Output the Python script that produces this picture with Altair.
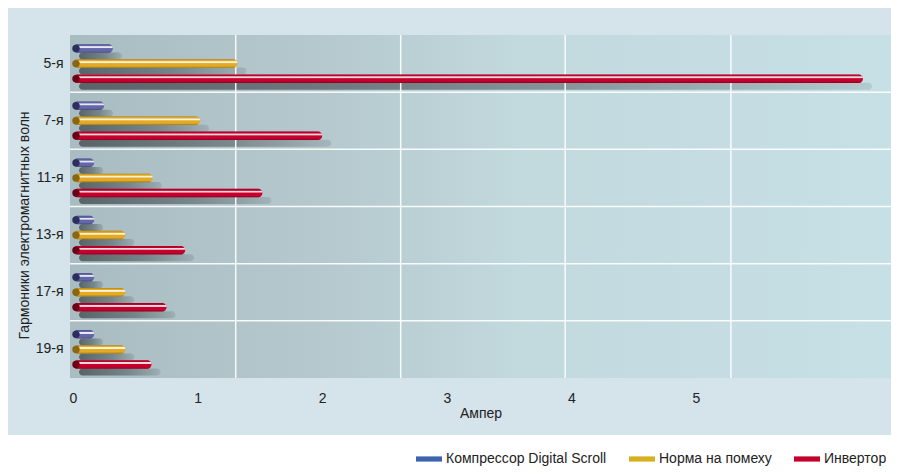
import altair as alt
import pandas as pd

FONT = "Liberation Sans"

rows = ["5-я", "7-я", "11-я", "13-я", "17-я", "19-я"]
series = ["Компрессор Digital Scroll", "Норма на помеху", "Инвертор"]
compressor = [0.32, 0.25, 0.17, 0.17, 0.17, 0.17]
norm = [1.32, 1.02, 0.64, 0.42, 0.42, 0.42]
inverter = [6.34, 2.00, 1.52, 0.90, 0.75, 0.63]
x_ticks = [0, 1, 2, 3, 4, 5]
grid_values = [1.306, 2.63, 3.95, 5.28]

legend_colors = ["#3e64ae", "#d7b01e", "#c4002c"]
bar_colors = ["#6367aa", "#e4ab22", "#c6002c"]
cap_colors = ["#2c2f5e", "#8a6512", "#6c0016"]
slots = ["s0", "s0sh", "s1", "s1sh", "s2", "s2sh"]

records = []
for r_i, r in enumerate(rows):
    for s_i, (s, vals) in enumerate(zip(series, [compressor, norm, inverter])):
        records.append({"row": r, "series": s, "value": vals[r_i],
                        "slot": f"s{s_i}", "sslot": f"s{s_i}sh"})
df = pd.DataFrame(records)

W, H = 821, 343
PAD_L, PAD_T = 62, 27

xs = alt.Scale(domain=[-0.0241, 6.565], nice=False, zero=False)
ys = alt.Scale(domain=rows, paddingInner=0, paddingOuter=0)
yo = alt.Scale(domain=slots, paddingInner=0, paddingOuter=0.8, align=0.8125)

xaxis = alt.Axis(values=x_ticks, format="d", grid=False, domain=False, ticks=False, zindex=1,
                 labelPadding=13, labelFontSize=14, labelColor="#222", labelFont=FONT,
                 title="Ампер", titleFontSize=14, titleFontWeight="normal",
                 titleColor="#222", titleFont=FONT, titlePadding=1)
yaxis = alt.Axis(title="Гармоники электромагнитных волн", domain=False, ticks=False, zindex=1,
                 labelPadding=7, labelFontSize=14, labelColor="#222", labelFont=FONT,
                 titleFontSize=14, titleFontWeight="normal", titleColor="#222",
                 titleFont=FONT, titleX=-39, titleY=190)

X = alt.X("value:Q", scale=xs, axis=xaxis)
Y = alt.Y("row:N", scale=ys, sort=rows, axis=yaxis)

one = alt.Data(values=[{"a": 1}])

panel = alt.Chart(one).mark_rect(color="#d5e3ea").encode(
    x=alt.value(-PAD_L), x2=alt.value(W), y=alt.value(-PAD_T), y2=alt.value(400))

plot_grad = alt.LinearGradient(
    gradient="linear", x1=0, x2=1, y1=0, y2=0,
    stops=[alt.GradientStop(offset=0, color="#a8bcc1"),
           alt.GradientStop(offset=0.3, color="#b4c8cd"),
           alt.GradientStop(offset=0.55, color="#c2d9de"),
           alt.GradientStop(offset=1, color="#c7e0e5")])
plot_bg = alt.Chart(one).mark_rect(fill=plot_grad).encode(
    x=alt.value(0), x2=alt.value(W), y=alt.value(0), y2=alt.value(H))

base = alt.Chart(df)

sh_grad = alt.LinearGradient(
    gradient="linear", x1=0, x2=1, y1=0, y2=0,
    stops=[alt.GradientStop(offset=0, color="rgba(68,78,82,0.8)"),
           alt.GradientStop(offset=0.6, color="rgba(68,78,82,0.5)"),
           alt.GradientStop(offset=1, color="rgba(68,78,82,0.15)")])
shadows = base.mark_bar(size=7, cornerRadius=3.5, xOffset=9, x2Offset=6, fill=sh_grad).encode(
    x=X, x2=alt.datum(0), y=Y, yOffset=alt.YOffset("sslot:N", scale=yo))

vgrid = alt.Chart(pd.DataFrame({"g": grid_values})).mark_rule(
    color="white", strokeWidth=1.5, opacity=0.9).encode(x=alt.X("g:Q", scale=xs, axis=xaxis))

hsep = alt.Chart(pd.DataFrame({"row": rows[1:]})).mark_rule(
    color="white", strokeWidth=1.5, opacity=0.9).encode(
    y=alt.Y("row:N", scale=ys, sort=rows, axis=yaxis, bandPosition=0))

bars = base.mark_bar(size=8.5, cornerRadius=4.25).encode(
    x=X, x2=alt.datum(0), y=Y,
    yOffset=alt.YOffset("slot:N", scale=yo),
    color=alt.Color("series:N", scale=alt.Scale(domain=series, range=bar_colors), legend=None))

hl_grad = alt.LinearGradient(
    gradient="linear", x1=0, x2=0, y1=0, y2=1,
    stops=[alt.GradientStop(offset=0, color="rgba(0,0,0,0.25)"),
           alt.GradientStop(offset=0.14, color="rgba(0,0,0,0)"),
           alt.GradientStop(offset=0.2, color="rgba(255,255,255,0)"),
           alt.GradientStop(offset=0.27, color="rgba(255,255,255,0.85)"),
           alt.GradientStop(offset=0.4, color="rgba(255,255,255,0.85)"),
           alt.GradientStop(offset=0.5, color="rgba(255,255,255,0)"),
           alt.GradientStop(offset=0.8, color="rgba(0,0,0,0)"),
           alt.GradientStop(offset=1, color="rgba(0,0,0,0.3)")])
overlay = base.mark_bar(size=8.5, cornerRadius=4.25, fill=hl_grad).encode(
    x=X, x2=alt.datum(0), y=Y, yOffset=alt.YOffset("slot:N", scale=yo))

caps = base.mark_circle(size=55, xOffset=3, opacity=1).encode(
    x=alt.X(datum=0, scale=xs, axis=xaxis), y=Y, yOffset=alt.YOffset("slot:N", scale=yo),
    color=alt.Color("series:N", scale=alt.Scale(domain=series, range=cap_colors), legend=None))

legend_layer = base.transform_filter("false").mark_bar().encode(
    x=X, y=Y,
    color=alt.Color("series:N", scale=alt.Scale(domain=series, range=legend_colors),
                    legend=alt.Legend(title=None, orient="none", legendX=346, legendY=411,
                                      direction="horizontal", labelLimit=400,
                                      symbolType="M-1,-0.2H1V0.2H-1Z", symbolSize=676,
                                      symbolStrokeWidth=0, symbolOpacity=1,
                                      labelFontSize=14, labelFont=FONT, labelColor="#222",
                                      labelOffset=4, columnPadding=22, padding=0)))

chart = alt.layer(panel, plot_bg, shadows, vgrid, hsep, bars, overlay, caps, legend_layer).resolve_scale(
    color="independent"
).properties(
    width=W, height=H,
    autosize=alt.AutoSizeParams(type="none"),
    padding={"left": PAD_L, "top": PAD_T, "right": 0, "bottom": 88},
).configure_view(stroke=None).configure(background="white", font=FONT)

chart.save("out.html", embed_options={"renderer": "svg", "actions": False})
